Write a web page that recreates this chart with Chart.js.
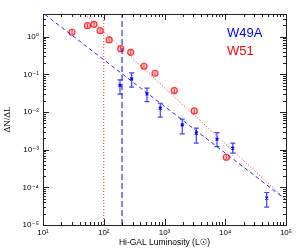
<!DOCTYPE html>
<html>
<head>
<meta charset="utf-8">
<script src="https://cdn.jsdelivr.net/npm/chart.js@4.4.1/dist/chart.umd.min.js"></script>
<style>
  body { margin: 0; background: #fff; }
  canvas { display: block; }
</style>
</head>
<body>
<canvas id="chartArea" width="300" height="250"></canvas>
<script>
// W51 points (Hi-GAL luminosity, dN/dL)
var w51L  = [30, 54, 69, 87, 123, 190, 278, 460, 700, 1450, 3090, 10400]
var w51N  = [1.31, 1.96, 2.13, 1.44, 0.82, 0.48, 0.385, 0.164, 0.107, 0.037, 0.0107, 0.00063]
var w51Lo = [1.15, 1.72, 1.87, 1.26, 0.72, 0.42, 0.34, 0.144, 0.094, 0.032, 0.0094, 0.00055]
var w51Hi = [1.49, 2.23, 2.42, 1.64, 0.93, 0.55, 0.44, 0.187, 0.122, 0.042, 0.0122, 0.00072]

// W49A points
var w49L  = [185, 288, 515, 853, 1960, 3340, 7310, 13300, 48100]
var w49N  = [0.0508, 0.0755, 0.0302, 0.0126, 0.00455, 0.00274, 0.0019, 0.0011, 0.000052]
var w49Lo = [0.0297, 0.0455, 0.0189, 0.00728, 0.00262, 0.00149, 0.00121, 0.00081, 0.000030]
var w49Hi = [0.071, 0.109, 0.0428, 0.0171, 0.00644, 0.00372, 0.00284, 0.00149, 0.000073]

// power-law fits (end points) and completeness limits
var w51FitL = [49, 100000]
var w51FitN = [3.9, 0.000047]
var w49FitL = [10.7, 100000]
var w49FitN = [3.9, 0.000047]
var w51Limit = 100
var w49Limit = 200

var xTicks = [10, 100, 1000, 10000, 100000]
var yTicks = [0.00001, 0.0001, 0.001, 0.01, 0.1, 1]
var xMin = 10, xMax = 100000, yMin = 0.00001, yMax = 4

var BLUE = '#0000ff'
var RED = '#ff0000'

function pts(xs, ys){
  var out = []
  for(var i = 0; i < xs.length; i++){
    out.push({x: xs[i], y: ys[i]})
  }
  return out
}

var supMap = {'-': '\u207b', '0': '\u2070', '1': '\u00b9', '2': '\u00b2', '3': '\u00b3', '4': '\u2074', '5': '\u2075'}
function powLabel(v){
  var e = String(Math.round(Math.log10(v)))
  return '10' + e.split('').map(function(c){ return supMap[c] }).join('')
}

// inward ticks on all four sides + frame + error bars + labels
var decor = {
  id: 'decor',
  afterDatasetsDraw(chart){
    var ctx = chart.ctx, a = chart.chartArea
    var xs = chart.scales.x, ys = chart.scales.y
    ctx.save()

    // error bars
    function bars(L, lo, hi, color, cap, width){
      ctx.strokeStyle = color
      ctx.lineWidth = width
      for(var i = 0; i < L.length; i++){
        var px = xs.getPixelForValue(L[i])
        var p1 = ys.getPixelForValue(lo[i])
        var p2 = ys.getPixelForValue(hi[i])
        ctx.beginPath()
        ctx.moveTo(px, p1); ctx.lineTo(px, p2)
        if(cap > 0){
          ctx.moveTo(px - cap, p1); ctx.lineTo(px + cap, p1)
          ctx.moveTo(px - cap, p2); ctx.lineTo(px + cap, p2)
        }
        ctx.stroke()
      }
    }
    bars(w49L, w49Lo, w49Hi, 'rgba(0,0,255,0.75)', 2.5, 1.2)
    bars(w51L, w51Lo, w51Hi, 'rgba(255,0,0,0.75)', 0, 1)

    // frame
    ctx.strokeStyle = '#222'
    ctx.lineWidth = 1
    ctx.strokeRect(Math.round(a.left) + 0.5, Math.round(a.top) + 0.5,
      Math.round(a.right - a.left), Math.round(a.bottom - a.top))

    ctx.beginPath()
    for(var e = 1; e <= 5; e++){
      for(var m = 1; m <= 9; m++){
        var v = m * Math.pow(10, e)
        if(v > xMax) break
        var px = Math.round(xs.getPixelForValue(v)) + 0.5
        var len = m === 1 ? 6 : 3
        ctx.moveTo(px, a.bottom); ctx.lineTo(px, a.bottom - len)
        ctx.moveTo(px, a.top); ctx.lineTo(px, a.top + len)
      }
    }
    for(var e2 = -5; e2 <= 0; e2++){
      for(var m2 = 1; m2 <= 9; m2++){
        var v2 = m2 * Math.pow(10, e2)
        if(v2 > yMax) break
        var py = Math.round(ys.getPixelForValue(v2)) + 0.5
        var len2 = m2 === 1 ? 6 : 3
        ctx.moveTo(a.left, py); ctx.lineTo(a.left + len2, py)
        ctx.moveTo(a.right, py); ctx.lineTo(a.right - len2, py)
      }
    }
    ctx.stroke()

    // series names
    ctx.font = '13px "Liberation Sans", Arial, sans-serif'
    ctx.textAlign = 'left'
    ctx.textBaseline = 'alphabetic'
    ctx.fillStyle = BLUE
    ctx.fillText('W49A', 227, 37)
    ctx.fillStyle = RED
    ctx.fillText('W51', 227, 55)
    ctx.restore()
  }
}

var ctx = document.getElementById('chartArea').getContext('2d')
var myChart = new Chart(ctx, {
  type: 'scatter',
  data: {
    datasets: [
      {
        label: 'W51 fit',
        data: pts(w51FitL, w51FitN),
        showLine: true,
        borderColor: 'rgba(255,0,0,0.85)',
        borderWidth: 1,
        borderDash: [1, 2],
        pointRadius: 0
      },
      {
        label: 'W49A fit',
        data: pts(w49FitL, w49FitN),
        showLine: true,
        borderColor: 'rgba(0,0,255,0.85)',
        borderWidth: 1,
        borderDash: [4, 3],
        pointRadius: 0
      },
      {
        label: 'W51 limit',
        data: [{x: w51Limit, y: yMin}, {x: w51Limit, y: yMax}],
        showLine: true,
        borderColor: 'rgba(255,0,0,0.85)',
        borderWidth: 1,
        borderDash: [1, 2],
        pointRadius: 0
      },
      {
        label: 'W49A limit',
        data: [{x: w49Limit, y: yMin}, {x: w49Limit, y: yMax}],
        showLine: true,
        borderColor: 'rgba(0,0,255,0.75)',
        borderWidth: 1.3,
        borderDash: [6, 3],
        pointRadius: 0
      },
      {
        label: 'W51',
        data: pts(w51L, w51N),
        pointStyle: 'circle',
        pointRadius: 3,
        pointBorderWidth: 1.2,
        pointBorderColor: 'rgba(255,0,0,0.8)',
        pointBackgroundColor: 'rgba(255,120,120,0.35)'
      },
      {
        label: 'W49A',
        data: pts(w49L, w49N),
        pointStyle: 'crossRot',
        pointRadius: 2,
        pointBorderWidth: 1.3,
        pointBorderColor: BLUE
      }
    ]
  },
  options: {
    responsive: false,
    animation: false,
    devicePixelRatio: 1,
    layout: { padding: { top: 14, right: 14, left: 0, bottom: 0 } },
    plugins: {
      legend: { display: false },
      tooltip: { enabled: false }
    },
    scales: {
      x: {
        type: 'logarithmic',
        min: xMin,
        max: xMax,
        afterBuildTicks: function(scale){
          scale.ticks = xTicks.map(function(v){ return {value: v} })
        },
        afterFit: function(scale){ scale.height = 25 },
        grid: { display: false, drawTicks: false },
        border: { display: false },
        ticks: {
          autoSkip: false,
          maxRotation: 0,
          padding: 3,
          color: '#000',
          font: { family: '"Liberation Sans", "DejaVu Sans", sans-serif', size: 8 },
          callback: function(v){ return powLabel(v) }
        },
        title: {
          display: true,
          text: 'Hi-GAL Luminosity (L\u2609)',
          color: '#000',
          padding: { top: 0, bottom: 2 },
          font: { family: '"Liberation Sans", "DejaVu Sans", sans-serif', size: 8.5 }
        }
      },
      y: {
        type: 'logarithmic',
        min: yMin,
        max: yMax,
        afterBuildTicks: function(scale){
          scale.ticks = yTicks.map(function(v){ return {value: v} })
        },
        afterFit: function(scale){ scale.width = 43 },
        grid: { display: false, drawTicks: false },
        border: { display: false },
        ticks: {
          autoSkip: false,
          padding: 4,
          color: '#000',
          font: { family: '"Liberation Sans", "DejaVu Sans", sans-serif', size: 8 },
          callback: function(v){ return powLabel(v) }
        },
        title: {
          display: true,
          text: '\u0394N/\u0394L',
          color: '#000',
          padding: { top: 2, bottom: 0 },
          font: { family: '"Liberation Serif", "DejaVu Serif", serif', size: 9 }
        }
      }
    }
  },
  plugins: [decor]
})
</script>
</body>
</html>
